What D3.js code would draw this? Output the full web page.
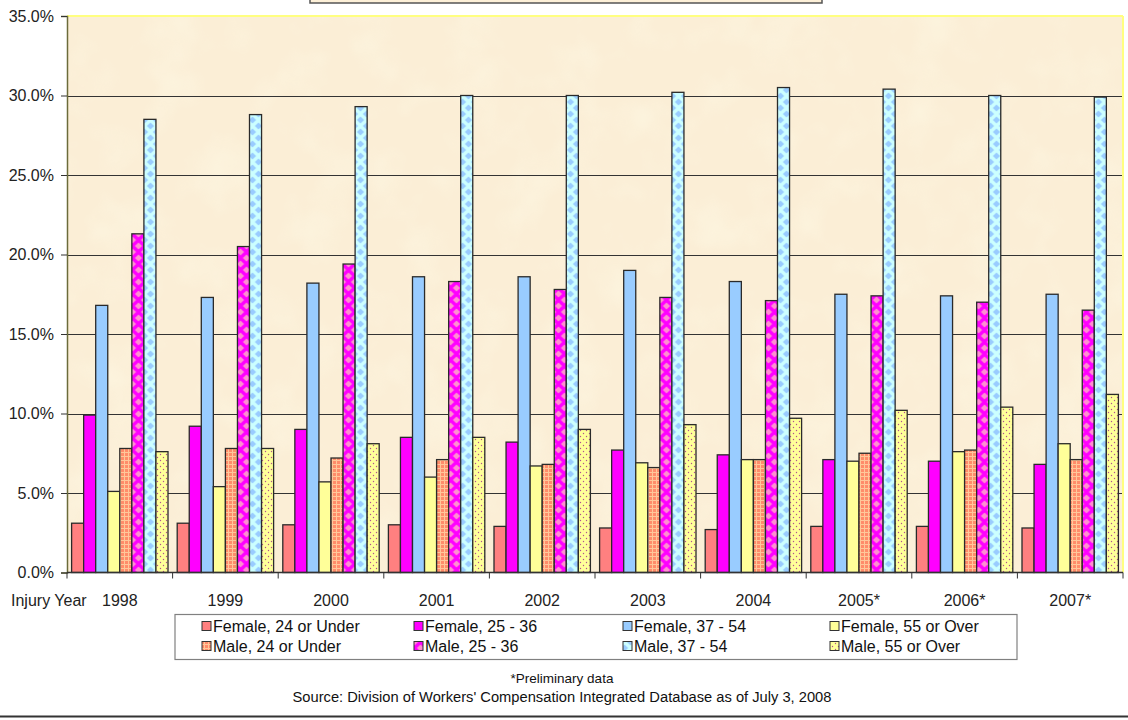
<!DOCTYPE html>
<html><head><meta charset="utf-8">
<script src="https://cdn.jsdelivr.net/npm/d3@7"></script>
<style>body{margin:0;background:#fff;}svg{display:block;font-family:"Liberation Sans",Arial,sans-serif;}</style>
</head><body><svg id="c" width="1128" height="720"></svg>
<script>
const years = ["1998","1999","2000","2001","2002","2003","2004","2005*","2006*","2007*"];
const seriesNames = ["Female, 24 or Under","Female, 25 - 36","Female, 37 - 54","Female, 55 or Over","Male, 24 or Under","Male, 25 - 36","Male, 37 - 54","Male, 55 or Over"];
const female24 = [3.1,3.1,3.0,3.0,2.9,2.8,2.7,2.9,2.9,2.8];
const female25 = [9.9,9.2,9.0,8.5,8.2,7.7,7.4,7.1,7.0,6.8];
const female37 = [16.8,17.3,18.2,18.6,18.6,19.0,18.3,17.5,17.4,17.5];
const female55 = [5.1,5.4,5.7,6.0,6.7,6.9,7.1,7.0,7.6,8.1];
const male24 = [7.8,7.8,7.2,7.1,6.8,6.6,7.1,7.5,7.7,7.1];
const male25 = [21.3,20.5,19.4,18.3,17.8,17.3,17.1,17.4,17.0,16.5];
const male37 = [28.5,28.8,29.3,30.0,30.0,30.2,30.5,30.4,30.0,29.9];
const male55 = [7.6,7.8,8.1,8.5,9.0,9.3,9.7,10.2,10.4,11.2];
const yTicks = [0,5,10,15,20,25,30,35];
const footnote = "*Preliminary data";
const source = "Source: Division of Workers' Compensation Integrated Database as of July 3, 2008";
const axisTitle = "Injury Year";

const seriesValues = [female24,female25,female37,female55,male24,male25,male37,male55];
const fills = ["#ff8080","#ff00ff","#99ccff","#ffff99","url(#pM24)","url(#pM25)","url(#pM37)","url(#pM55)"];

(function(){
const svg = d3.select("#c");
const defs = svg.append("defs");
let p = defs.append("pattern").attr("id","pM24").attr("patternUnits","userSpaceOnUse").attr("width",4).attr("height",4);
p.append("rect").attr("width",4).attr("height",4).attr("fill","#ff8c6a");
p.append("rect").attr("x",0).attr("y",0).attr("width",4).attr("height",1).attr("fill","#ffc79a").attr("shape-rendering","crispEdges");
p.append("rect").attr("x",0).attr("y",0).attr("width",1).attr("height",4).attr("fill","#ffc79a").attr("shape-rendering","crispEdges");
function diamonds(id, bg, fg){
  const q = defs.append("pattern").attr("id",id).attr("patternUnits","userSpaceOnUse").attr("width",12).attr("height",12).attr("x",0.5).attr("y",0);
  q.append("rect").attr("width",12).attr("height",12).attr("fill",bg);
  const d = (cx,cy,r)=>`M${cx},${cy-r}L${cx+r},${cy}L${cx},${cy+r}L${cx-r},${cy}Z`;
  q.append("path").attr("d",d(6,6,3.6)+d(0,0,3.6)+d(12,0,3.6)+d(0,12,3.6)+d(12,12,3.6)).attr("fill",fg);
}
diamonds("pM25","#ff00ff","#ff8fd0");
diamonds("pM37","#ccffff","#99ccff");
p = defs.append("pattern").attr("id","pM55").attr("patternUnits","userSpaceOnUse").attr("width",6).attr("height",6);
p.append("rect").attr("width",6).attr("height",6).attr("fill","#ffff99");
p.append("circle").attr("cx",1.5).attr("cy",1.5).attr("r",0.7).attr("fill","#b05090");
p.append("circle").attr("cx",4.5).attr("cy",4.5).attr("r",0.7).attr("fill","#b05090");

const f = defs.append("filter").attr("id","tex").attr("x",0).attr("y",0).attr("width","100%").attr("height","100%");
f.append("feTurbulence").attr("type","fractalNoise").attr("baseFrequency","0.02").attr("numOctaves",3).attr("seed",4);
f.append("feColorMatrix").attr("type","matrix").attr("values","0 0 0 0 1  0 0 0 0 1  0 0 0 0 0.85  1.6 0 0 0 -0.75");
f.append("feComposite").attr("in2","SourceGraphic").attr("operator","in");

const pL = 67, pR = 1123, pT = 16, pB = 572.5;
const x0 = d3.scaleBand().domain(years).range([pL,pR]).padding(0);
const x1 = d3.scaleBand().domain(d3.range(8)).range([4.6, x0.bandwidth()-4.6]).padding(0);
const y = d3.scaleLinear().domain([0,35]).range([pB, pT]);

svg.append("rect").attr("x",310).attr("y",-20).attr("width",512).attr("height",23).attr("fill","#fdf0d8").attr("stroke","#555").attr("stroke-width",1.5);

svg.append("rect").attr("x",pL).attr("y",pT).attr("width",pR-pL).attr("height",pB-pT).attr("fill","#fbeed6");
svg.append("rect").attr("x",pL).attr("y",pT).attr("width",pR-pL).attr("height",pB-pT).attr("fill","#fff").attr("filter","url(#tex)").attr("opacity",0.45);
svg.append("g").selectAll("line").data(yTicks.filter(t=>t>0 && t<35)).join("line")
  .attr("x1",pL).attr("x2",pR).attr("y1",d=>Math.round(y(d))+0.5).attr("y2",d=>Math.round(y(d))+0.5)
  .attr("stroke","#333").attr("stroke-width",1);
svg.append("line").attr("x1",pL).attr("x2",pR).attr("y1",pT).attr("y2",pT).attr("stroke","#ffff80").attr("stroke-width",2);
svg.append("line").attr("x1",pR).attr("x2",pR).attr("y1",pT).attr("y2",pB).attr("stroke","#ffff80").attr("stroke-width",2);

const g = svg.append("g");
years.forEach((yr,i)=>{
  seriesValues.forEach((vals,s)=>{
    g.append("rect")
      .attr("x", x0(yr)+x1(s))
      .attr("y", y(vals[i]))
      .attr("width", x1.bandwidth())
      .attr("height", y(0)-y(vals[i]))
      .attr("fill", fills[s])
      .attr("stroke","#2a2a2a").attr("stroke-width",1.3);
  });
});

const yAxis = d3.axisLeft(y).tickValues(yTicks).tickFormat(d=>d.toFixed(1)+"%").tickSize(6).tickPadding(7);
const ya = svg.append("g").attr("transform",`translate(${pL},0)`).call(yAxis);
ya.select(".domain").attr("stroke","#6b6b3a").attr("stroke-width",1.5);
ya.selectAll(".tick line").attr("stroke","#333");
ya.selectAll("text").attr("font-size",16).attr("fill","#222").attr("font-family","Liberation Sans, Arial, sans-serif");

const xa = svg.append("g").attr("transform",`translate(0,${pB})`);
xa.append("line").attr("x1",pL).attr("x2",pR).attr("y1",0).attr("y2",0).attr("stroke","#333").attr("stroke-width",1.5);
const edges = years.map(yr=>x0(yr)).concat([pR]);
xa.selectAll("line.tk").data(edges).join("line").attr("class","tk")
  .attr("x1",d=>d).attr("x2",d=>d).attr("y1",0).attr("y2",6).attr("stroke","#333").attr("stroke-width",1);
xa.selectAll("text.yr").data(years).join("text").attr("class","yr")
  .attr("x",d=>x0(d)+x0.bandwidth()/2).attr("y",33).attr("text-anchor","middle")
  .attr("font-size",16).attr("fill","#222").text(d=>d);
svg.append("text").attr("x",11).attr("y",pB+33).attr("font-size",16).attr("fill","#222").text(axisTitle);

const lg = svg.append("g");
lg.append("rect").attr("x",175).attr("y",614.5).attr("width",842).attr("height",45).attr("fill","#fff").attr("stroke","#808080").attr("stroke-width",1.2);
const colX = [202,414,623,830];
seriesNames.forEach((name,s)=>{
  const cx = colX[s%4], cy = s<4 ? 626 : 646;
  lg.append("rect").attr("x",cx).attr("y",cy-4.5).attr("width",9).attr("height",9)
    .attr("fill",fills[s]).attr("stroke","#333").attr("stroke-width",1);
  lg.append("text").attr("x",cx+11).attr("y",cy+5.5).attr("font-size",16).attr("fill","#111").text(name);
});

svg.append("text").attr("x",562).attr("y",683).attr("text-anchor","middle").attr("font-size",13.5).attr("fill","#111").text(footnote);
svg.append("text").attr("x",562).attr("y",702).attr("text-anchor","middle").attr("font-size",14.7).attr("fill","#111").text(source);
svg.append("line").attr("x1",0).attr("x2",1128).attr("y1",716.5).attr("y2",716.5).attr("stroke","#333").attr("stroke-width",2);
})();
</script></body></html>
